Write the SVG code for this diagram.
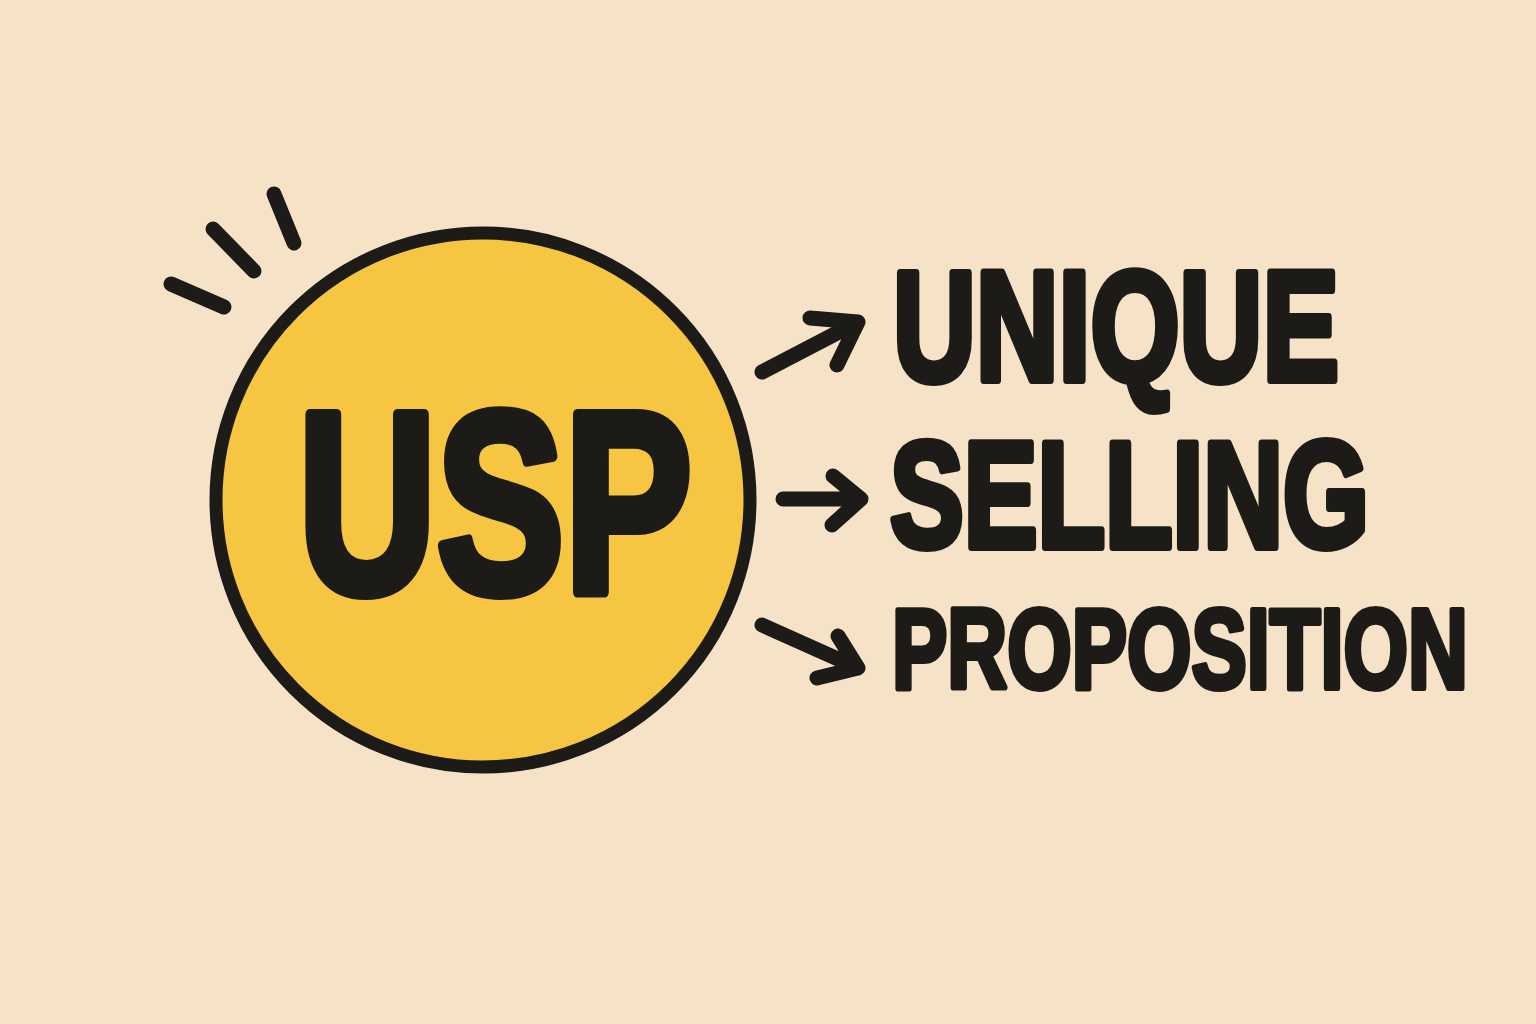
<svg xmlns="http://www.w3.org/2000/svg" width="1536" height="1024" viewBox="0 0 1536 1024">
<style>
.ink{fill:none;stroke:#1c1b17;stroke-width:15;stroke-linecap:round;stroke-linejoin:round}
.t{font-family:"Liberation Sans","DejaVu Sans",sans-serif;font-weight:bold;fill:#1c1b17;stroke:#1c1b17;stroke-linejoin:round}
</style>
<rect width="1536" height="1024" fill="#f6e3c7"/>
<g id="rays">
<line class="ink" x1="171" y1="284" x2="224" y2="307"/>
<line class="ink" x1="213" y1="229" x2="254" y2="271"/>
<line class="ink" x1="274" y1="194" x2="294" y2="243"/>
</g>
<g id="usp">
<circle cx="483" cy="500" r="267" fill="#f6c643" stroke="#1c1b17" stroke-width="13"/>
<text class="t" transform="translate(298 592) scale(0.743 1)" x="0" y="0" font-size="258" stroke-width="11">USP</text>
</g>
<g id="connectors">
<path class="ink" d="M762 372 L858 322 M810 318 L858 322 L837 365"/>
<path class="ink" d="M783 499 L861 499 M833 476 L861 499 L832 525"/>
<path class="ink" d="M762 625 L858 668 M838 636 L858 668 L817 678"/>
</g>
<g id="unique">
<text class="t" transform="translate(893 380) scale(0.735 1)" x="0" y="0" font-size="156" stroke-width="8">UNIQUE</text>
</g>
<g id="selling">
<text class="t" transform="translate(890 547) scale(0.737 1)" x="0" y="0" font-size="150" stroke-width="8">SELLING</text>
</g>
<g id="proposition">
<text class="t" transform="translate(892 688) scale(0.7275 1)" x="0" y="0" font-size="114" stroke-width="6">PROPOSITION</text>
</g>
</svg>
